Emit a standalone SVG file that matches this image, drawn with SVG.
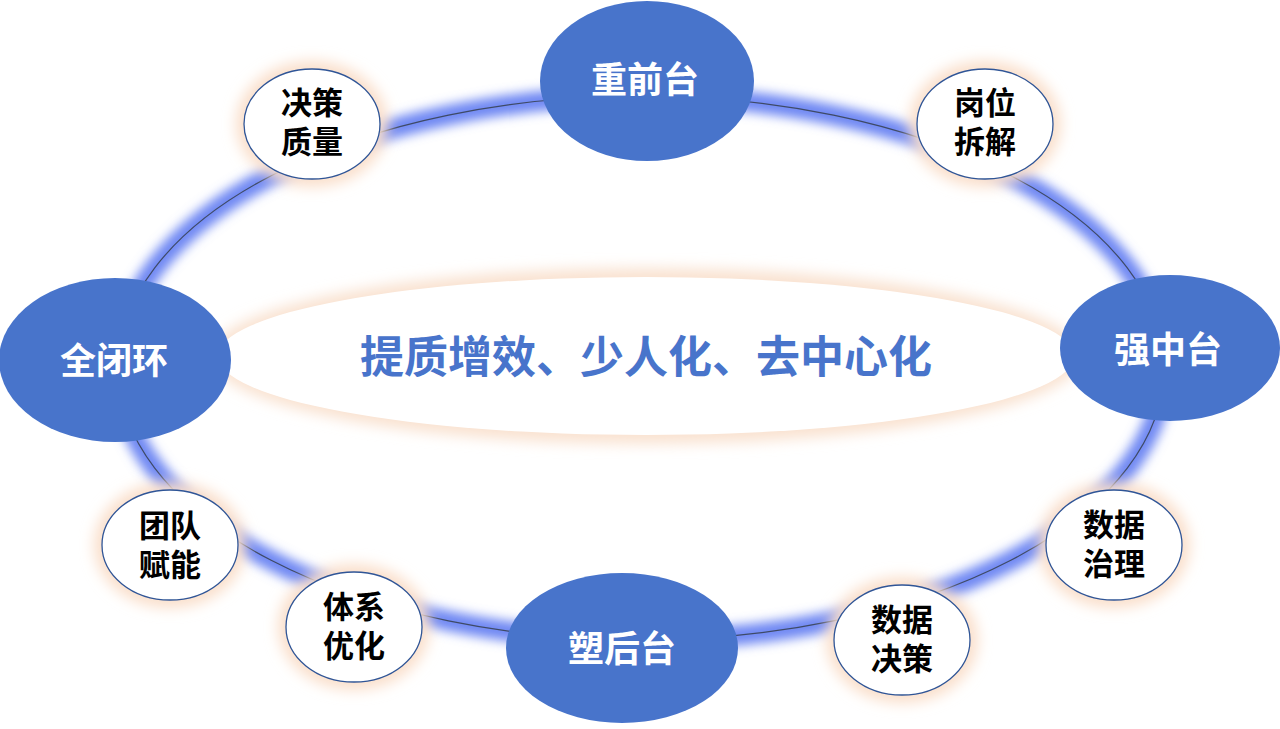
<svg xmlns="http://www.w3.org/2000/svg" width="1280" height="729" viewBox="0 0 1280 729">
  <defs>
    <filter id="blurRing" x="-10%" y="-10%" width="120%" height="120%">
      <feGaussianBlur stdDeviation="5.5"/>
    </filter>
    <filter id="blurGlow" x="-20%" y="-20%" width="140%" height="140%">
      <feGaussianBlur stdDeviation="7"/>
    </filter>
    <style>
      .big { fill: #4874CB; }
      .bigtxt { fill: #FFFFFF; font-family: "Noto Sans CJK SC", "Noto Sans", sans-serif; font-weight: bold; font-size: 36px; text-anchor: middle; dominant-baseline: central; }
      .small { fill: #FFFFFF; stroke: #2F5597; stroke-width: 1.3; }
      .smallglow { fill: #FADFCB; filter: url(#blurGlow); }
      .smalltxt { fill: #000000; font-family: "Liberation Sans", "Noto Sans CJK SC", sans-serif; font-weight: bold; font-size: 31px; text-anchor: middle; }
      .ringglow { fill: none; stroke: #6E87F3; stroke-width: 20; filter: url(#blurRing); }
      .ringline { fill: none; stroke: #3E4A66; stroke-width: 1.2; }
      .centertxt { fill: #4874CB; font-family: "Noto Sans CJK SC", "Noto Sans", sans-serif; font-weight: bold; font-size: 44px; text-anchor: middle; dominant-baseline: central; }
    </style>
  </defs>
  <rect width="1280" height="729" fill="#FFFFFF"/>

  <g id="center">
    <ellipse cx="646" cy="356" rx="436" ry="88" fill="#F9E2D0" filter="url(#blurGlow)"/>
    <ellipse cx="646" cy="356" rx="428" ry="79" fill="#FFFFFF"/>
    <text class="centertxt" x="646" y="354">提质增效、少人化、去中心化</text>
  </g>

  <g id="connectors">
    <ellipse class="ringglow" cx="641" cy="368" rx="523" ry="272"/>
    <ellipse class="ringline" cx="641" cy="368" rx="523" ry="272"/>
  </g>

  <g id="node-qianzhong">
    <ellipse class="big" cx="647" cy="81" rx="107" ry="80"/>
    <text class="bigtxt" x="645" y="77">重前台</text>
  </g>
  <g id="node-qiangzhong">
    <ellipse class="big" cx="1170" cy="348" rx="110" ry="73"/>
    <text class="bigtxt" x="1168" y="347">强中台</text>
  </g>
  <g id="node-quanbihuan">
    <ellipse class="big" cx="115" cy="360" rx="116" ry="82"/>
    <text class="bigtxt" x="114" y="358">全闭环</text>
  </g>
  <g id="node-suhou">
    <ellipse class="big" cx="622" cy="648" rx="116" ry="75"/>
    <text class="bigtxt" x="622" y="646">塑后台</text>
  </g>

  <g id="node-juecezhiliang">
    <ellipse class="smallglow" cx="312" cy="124" rx="76" ry="63"/>
    <ellipse class="small" cx="312" cy="124" rx="68" ry="55"/>
    <text class="smalltxt"><tspan x="312" y="114">决策</tspan><tspan x="312" y="153">质量</tspan></text>
  </g>
  <g id="node-gangweichaijie">
    <ellipse class="smallglow" cx="985" cy="124" rx="76" ry="63"/>
    <ellipse class="small" cx="985" cy="124" rx="68" ry="55"/>
    <text class="smalltxt"><tspan x="985" y="114">岗位</tspan><tspan x="985" y="153">拆解</tspan></text>
  </g>
  <g id="node-tuanduifuneng">
    <ellipse class="smallglow" cx="170" cy="545" rx="76" ry="63"/>
    <ellipse class="small" cx="170" cy="545" rx="68" ry="55"/>
    <text class="smalltxt"><tspan x="170" y="537">团队</tspan><tspan x="170" y="576">赋能</tspan></text>
  </g>
  <g id="node-tixiyouhua">
    <ellipse class="smallglow" cx="354" cy="627" rx="76" ry="63"/>
    <ellipse class="small" cx="354" cy="627" rx="68" ry="55"/>
    <text class="smalltxt"><tspan x="354" y="618">体系</tspan><tspan x="354" y="657">优化</tspan></text>
  </g>
  <g id="node-shujujuece">
    <ellipse class="smallglow" cx="902" cy="640" rx="76" ry="63"/>
    <ellipse class="small" cx="902" cy="640" rx="68" ry="55"/>
    <text class="smalltxt"><tspan x="902" y="631">数据</tspan><tspan x="902" y="670">决策</tspan></text>
  </g>
  <g id="node-shujuzhili">
    <ellipse class="smallglow" cx="1114" cy="545" rx="76" ry="63"/>
    <ellipse class="small" cx="1114" cy="545" rx="68" ry="55"/>
    <text class="smalltxt"><tspan x="1114" y="536">数据</tspan><tspan x="1114" y="575">治理</tspan></text>
  </g>
</svg>
